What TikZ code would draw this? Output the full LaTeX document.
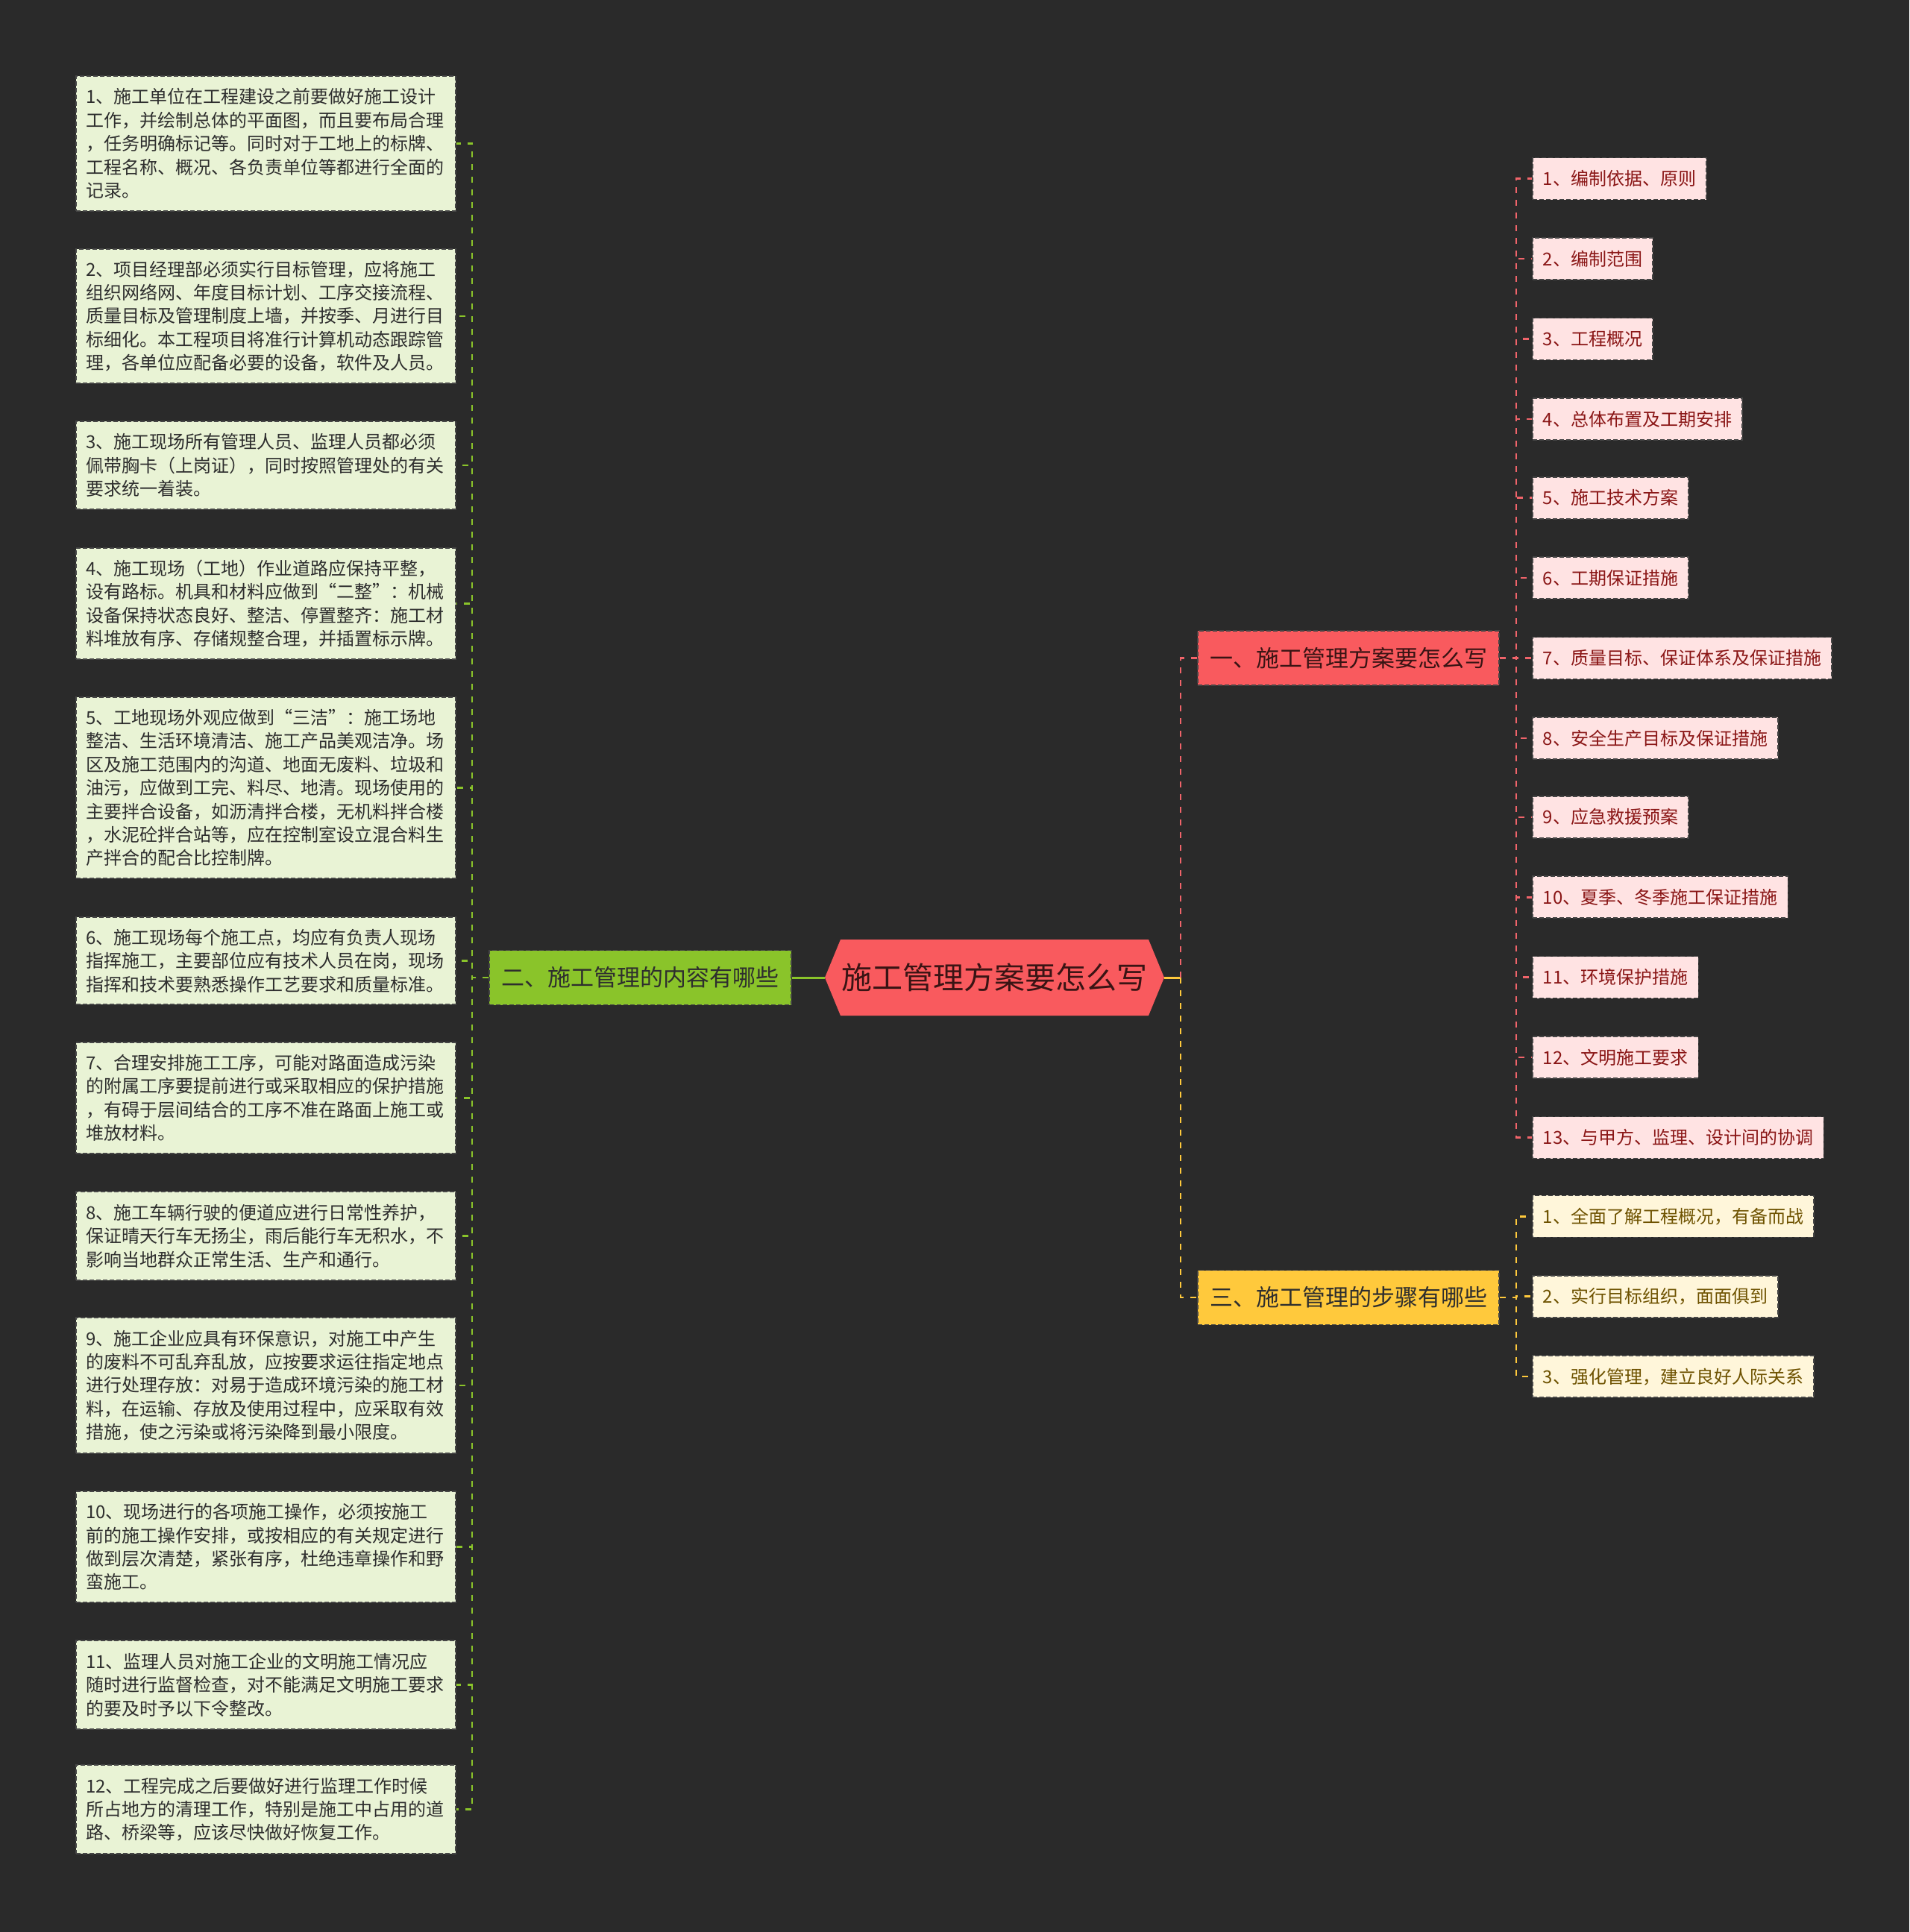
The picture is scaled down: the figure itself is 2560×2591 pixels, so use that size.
\documentclass[tikz,border=0pt]{standalone}
\usepackage{fontspec}
\setmainfont{Noto Sans CJK SC}
\definecolor{bg}{HTML}{2A2A2A}
\definecolor{rootfill}{HTML}{F95A5E}
\definecolor{roottext}{HTML}{3A1414}
\definecolor{gfill}{HTML}{8AC42A}
\definecolor{yfill}{HTML}{FFC93C}
\definecolor{lfill}{HTML}{E9F3D5}
\definecolor{ltext}{HTML}{2E2E2E}
\definecolor{rifill}{HTML}{FFE3E3}
\definecolor{ritext}{HTML}{8A1616}
\definecolor{yifill}{HTML}{FFF6DA}
\definecolor{yitext}{HTML}{6E5200}
\definecolor{edge}{HTML}{454545}
\definecolor{gline}{HTML}{8AC42A}
\definecolor{rline}{HTML}{F0646A}
\definecolor{yline}{HTML}{FFC93C}
\begin{document}
\begin{tikzpicture}[x=1pt,y=-1pt,
  boxedge/.style={draw=edge, line width=1.6pt, dash pattern=on 6pt off 3pt},
  lbox/.style={boxedge, fill=lfill, text=ltext, text width=483pt, align=left,
    inner xsep=13pt, inner ysep=0pt, minimum height=#1,
    font=\fontsize{24}{31.4}\selectfont},
  branch/.style={boxedge, minimum width=404pt, minimum height=73pt, inner sep=0pt,
    font=\fontsize{31}{36}\selectfont, text=roottext},
  ritem/.style={boxedge, fill=rifill, text=ritext, anchor=west, inner xsep=14pt,
    inner ysep=0pt, minimum height=56pt, font=\fontsize{24}{28}\selectfont},
  yitem/.style={boxedge, fill=yifill, text=yitext, anchor=west, inner xsep=14pt,
    inner ysep=0pt, minimum height=56pt, font=\fontsize{24}{28}\selectfont},
  gconn/.style={draw=gline, line width=2.6pt, dash pattern=on 8pt off 9pt},
  rconn/.style={draw=rline, line width=2.6pt, dash pattern=on 8pt off 9pt},
  yconn/.style={draw=yline, line width=2.6pt, dash pattern=on 8pt off 9pt},
]
\fill[bg] (0,0) rectangle (2560,2591);
\useasboundingbox (0,0) rectangle (2560,2591);

% root
\fill[rootfill] (1106,1311) -- (1127,1260) -- (1540,1260) -- (1561,1311) -- (1540,1362) -- (1127,1362) -- cycle;
\node[minimum width=455pt, minimum height=102pt, inner sep=0pt, text=roottext,
  font=\fontsize{41}{46}\selectfont] (root) at (1333.5,1311) {施工管理方案要怎么写};

% level 1
\node[branch, fill=gfill, text=ltext, minimum width=405pt] (n2) at (858.5,1311) {二、施工管理的内容有哪些};
\node[branch, fill=rootfill] (n1) at (1808,882.6) {一、施工管理方案要怎么写};
\node[branch, fill=yfill, text=ltext] (n3) at (1808,1740) {三、施工管理的步骤有哪些};

% left boxes
\node[lbox=181] (l1) at (356.5,192.5) {1、施工单位在工程建设之前要做好施工设计\\工作，并绘制总体的平面图，而且要布局合理\\，任务明确标记等。同时对于工地上的标牌、\\工程名称、概况、各负责单位等都进行全面的\\记录。};
\node[lbox=180] (l2) at (356.5,424) {2、项目经理部必须实行目标管理，应将施工\\组织网络网、年度目标计划、工序交接流程、\\质量目标及管理制度上墙，并按季、月进行目\\标细化。本工程项目将准行计算机动态跟踪管\\理，各单位应配备必要的设备，软件及人员。};
\node[lbox=118] (l3) at (356.5,624) {3、施工现场所有管理人员、监理人员都必须\\佩带胸卡（上岗证），同时按照管理处的有关\\要求统一着装。};
\node[lbox=149] (l4) at (356.5,809.5) {4、施工现场（工地）作业道路应保持平整，\\设有路标。机具和材料应做到“二整”：机械\\设备保持状态良好、整洁、停置整齐：施工材\\料堆放有序、存储规整合理，并插置标示牌。};
\node[lbox=243] (l5) at (356.5,1056.5) {5、工地现场外观应做到“三洁”：施工场地\\整洁、生活环境清洁、施工产品美观洁净。场\\区及施工范围内的沟道、地面无废料、垃圾和\\油污，应做到工完、料尽、地清。现场使用的\\主要拌合设备，如沥清拌合楼，无机料拌合楼\\，水泥砼拌合站等，应在控制室设立混合料生\\产拌合的配合比控制牌。};
\node[lbox=117] (l6) at (356.5,1288.5) {6、施工现场每个施工点，均应有负责人现场\\指挥施工，主要部位应有技术人员在岗，现场\\指挥和技术要熟悉操作工艺要求和质量标准。};
\node[lbox=149] (l7) at (356.5,1472.5) {7、合理安排施工工序，可能对路面造成污染\\的附属工序要提前进行或采取相应的保护措施\\，有碍于层间结合的工序不准在路面上施工或\\堆放材料。};
\node[lbox=119] (l8) at (356.5,1657.5) {8、施工车辆行驶的便道应进行日常性养护，\\保证晴天行车无扬尘，雨后能行车无积水，不\\影响当地群众正常生活、生产和通行。};
\node[lbox=182] (l9) at (356.5,1858) {9、施工企业应具有环保意识，对施工中产生\\的废料不可乱弃乱放，应按要求运往指定地点\\进行处理存放：对易于造成环境污染的施工材\\料，在运输、存放及使用过程中，应采取有效\\措施，使之污染或将污染降到最小限度。};
\node[lbox=149] (l10) at (356.5,2074.5) {10、现场进行的各项施工操作，必须按施工\\前的施工操作安排，或按相应的有关规定进行\\做到层次清楚，紧张有序，杜绝违章操作和野\\蛮施工。};
\node[lbox=119] (l11) at (356.5,2259.5) {11、监理人员对施工企业的文明施工情况应\\随时进行监督检查，对不能满足文明施工要求\\的要及时予以下令整改。};
\node[lbox=119] (l12) at (356.5,2426.5) {12、工程完成之后要做好进行监理工作时候\\所占地方的清理工作，特别是施工中占用的道\\路、桥梁等，应该尽快做好恢复工作。};

% red items
\node[ritem] (r1) at (2054,239.6) {1、编制依据、原则};
\node[ritem] (r2) at (2054,347.1) {2、编制范围};
\node[ritem] (r3) at (2054,454.5) {3、工程概况};
\node[ritem] (r4) at (2054,561.9) {4、总体布置及工期安排};
\node[ritem] (r5) at (2054,667.7) {5、施工技术方案};
\node[ritem] (r6) at (2054,775.1) {6、工期保证措施};
\node[ritem] (r7) at (2054,882.6) {7、质量目标、保证体系及保证措施};
\node[ritem] (r8) at (2054,990) {8、安全生产目标及保证措施};
\node[ritem] (r9) at (2054,1095.8) {9、应急救援预案};
\node[ritem] (r10) at (2054,1203.2) {10、夏季、冬季施工保证措施};
\node[ritem] (r11) at (2054,1310.6) {11、环境保护措施};
\node[ritem] (r12) at (2054,1418) {12、文明施工要求};
\node[ritem] (r13) at (2054,1525.5) {13、与甲方、监理、设计间的协调};

% yellow items
\node[yitem] (y1) at (2054,1631.3) {1、全面了解工程概况，有备而战};
\node[yitem] (y2) at (2054,1738.7) {2、实行目标组织，面面俱到};
\node[yitem] (y3) at (2054,1846.1) {3、强化管理，建立良好人际关系};

% trunk coordinates
\coordinate (gt) at (633,1311);
\coordinate (rt) at (1583,1311);
\coordinate (rit) at (2033,882.6);
\coordinate (yit) at (2033,1740);

% root connectors
\draw[draw=gline, line width=3pt] (root.west) -- (n2.east);
\draw[draw=yline, line width=3pt] (root.east) -- (rt);
\draw[rconn] (rt) |- (n1.west);
\draw[yconn] (rt) |- (n3.west);

% green connectors
\foreach \i in {1,...,12} {
  \draw[gconn] (n2.west) -- (gt) |- (l\i.east);
}
% red item connectors
\foreach \i in {1,...,13} {
  \draw[rconn] (n1.east) -- (rit) |- (r\i.west);
}
% yellow item connectors
\foreach \i in {1,2,3} {
  \draw[yconn] (n3.east) -- (yit) |- (y\i.west);
}
\end{tikzpicture}
\end{document}
